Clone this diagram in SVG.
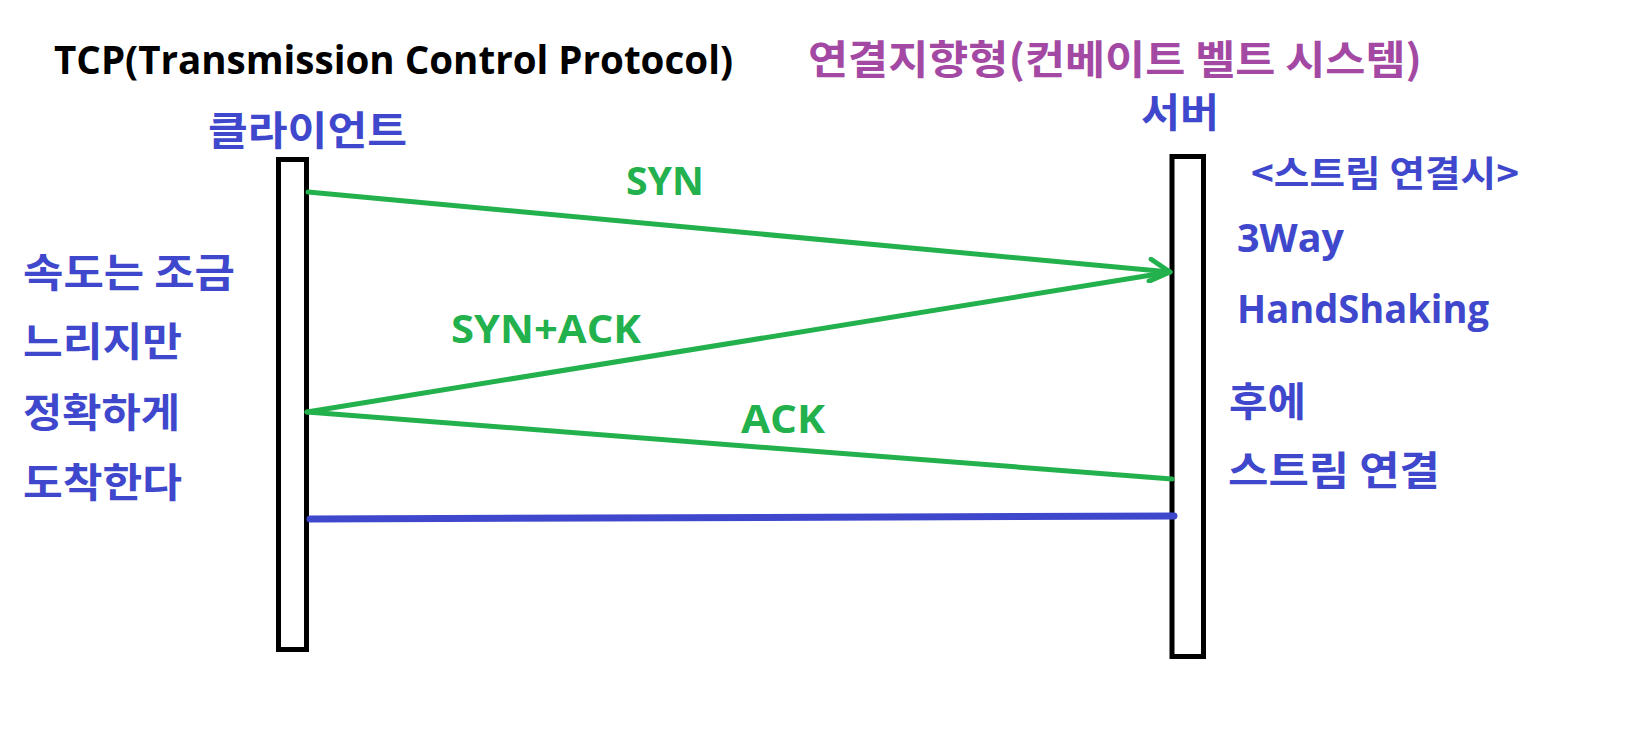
<svg xmlns="http://www.w3.org/2000/svg" width="1641" height="750" viewBox="0 0 1641 750">
<style>
.k { font-family: 'Noto Sans CJK KR', 'Malgun Gothic', sans-serif; font-weight: 700; font-size: 40px; }
.l { font-family: 'Open Sans', 'Noto Sans CJK KR', sans-serif; font-weight: 700; font-size: 40px; }
.blue { fill: #3F48CC; }
.green { fill: #22B14C; }
.purple { fill: #A349A4; }
.black { fill: #000000; }
.life { fill: #FFFFFF; stroke: #000000; stroke-width: 5; }
.msg { fill: none; stroke: #22B14C; stroke-width: 5; stroke-linecap: round; }
.stream { fill: none; stroke: #3F48CC; stroke-width: 7; stroke-linecap: round; }
</style>
<defs>
<marker id="openArrow" markerUnits="userSpaceOnUse" viewBox="0 0 28 26" markerWidth="28" markerHeight="26" refX="23" refY="13" orient="auto">
<path d="M3,2 L23,13 L3,24" fill="none" stroke="#22B14C" stroke-width="5" stroke-linecap="round" stroke-linejoin="round"/>
</marker>
</defs>
<rect x="0" y="0" width="1641" height="750" fill="#FFFFFF"/>

<g id="title">
<text class="l black" x="54" y="74" textLength="679" lengthAdjust="spacingAndGlyphs">TCP(Transmission Control Protocol)</text>
</g>
<g id="subtitle">
<text class="k purple" x="808" y="74" textLength="614" lengthAdjust="spacingAndGlyphs">연결지향형(컨베이트 벨트 시스템)</text>
</g>

<g id="client">
<text class="k blue" x="208" y="145" textLength="199" lengthAdjust="spacingAndGlyphs">클라이언트</text>
<rect class="life" x="278.5" y="159.5" width="28" height="490"/>
</g>

<g id="server">
<text class="k blue" x="1141" y="127" textLength="78" lengthAdjust="spacingAndGlyphs">서버</text>
<rect class="life" x="1172" y="156.5" width="31.5" height="500"/>
</g>

<g id="client-note">
<text class="k blue" x="23" y="287" textLength="212" lengthAdjust="spacingAndGlyphs">속도는 조금</text>
<text class="k blue" x="23" y="356" textLength="159" lengthAdjust="spacingAndGlyphs">느리지만</text>
<text class="k blue" x="23" y="427" textLength="157" lengthAdjust="spacingAndGlyphs">정확하게</text>
<text class="k blue" x="23" y="497" textLength="159" lengthAdjust="spacingAndGlyphs">도착한다</text>
</g>

<g id="server-note">
<text class="k blue" x="1251" y="187" font-size="36" style="font-size:36px" textLength="268" lengthAdjust="spacingAndGlyphs">&lt;스트림 연결시&gt;</text>
<text class="l blue" x="1237" y="252" textLength="107" lengthAdjust="spacingAndGlyphs">3Way</text>
<text class="l blue" x="1237" y="323" textLength="252" lengthAdjust="spacingAndGlyphs">HandShaking</text>
<text class="k blue" x="1229" y="416" textLength="77" lengthAdjust="spacingAndGlyphs">후에</text>
<text class="k blue" x="1228" y="485" textLength="212" lengthAdjust="spacingAndGlyphs">스트림 연결</text>
</g>

<g id="connectors">
<line id="syn" class="msg" x1="308" y1="192" x2="1170" y2="272" marker-end="url(#openArrow)"/>
<line id="syn-ack" class="msg" x1="1170" y1="272" x2="307" y2="412"/>
<line id="ack" class="msg" x1="307" y1="412" x2="1172" y2="479"/>
<line id="stream" class="stream" x1="310" y1="519" x2="1174" y2="516"/>
</g>

<g id="connector-labels">
<text class="l green" x="626" y="195" textLength="78" lengthAdjust="spacingAndGlyphs">SYN</text>
<text class="l green" x="451" y="343" textLength="190" lengthAdjust="spacingAndGlyphs">SYN+ACK</text>
<text class="l green" x="741" y="433" textLength="84" lengthAdjust="spacingAndGlyphs">ACK</text>
</g>
</svg>
